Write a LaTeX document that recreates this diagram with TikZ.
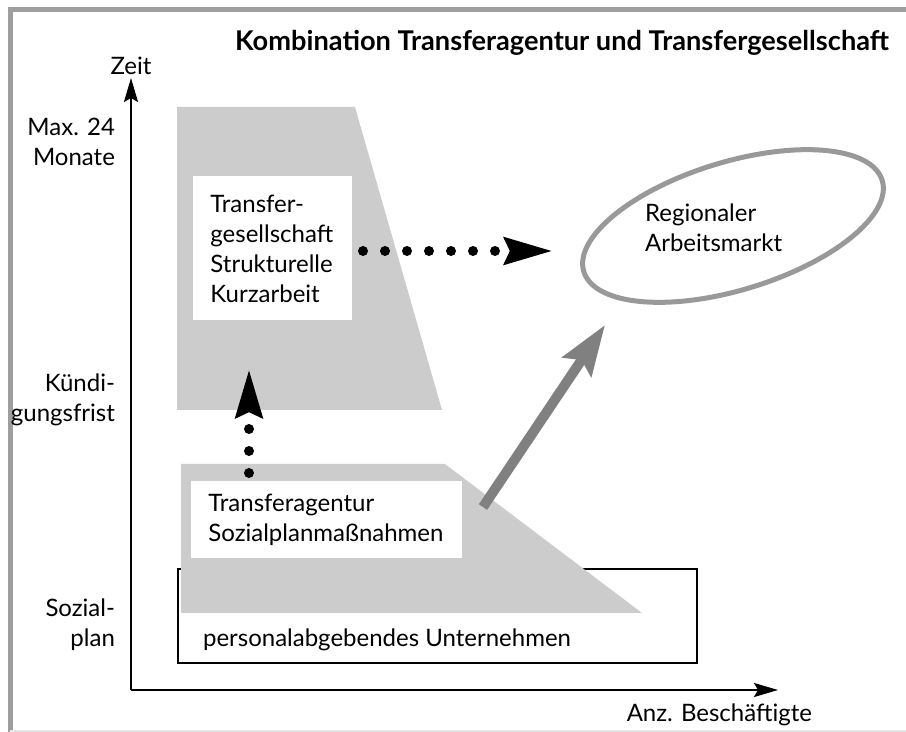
\documentclass[tikz,border=0pt]{standalone}
\usepackage{fontspec}
\setmainfont{Lato}
\usetikzlibrary{arrows.meta}
\usetikzlibrary{shapes.geometric}
\usetikzlibrary{positioning}
\definecolor{framegray}{gray}{0.62}
\definecolor{shadegray}{gray}{0.8}
\definecolor{ellgray}{gray}{0.6}
\definecolor{arrowgray}{gray}{0.5}

\begin{document}
\begin{tikzpicture}[x=0.5pt, y=-0.5pt, font=\fontsize{12}{15}\selectfont,
    axis/.style={line width=1pt, -{Stealth[length=12pt, width=7pt, inset=2pt]}},
    shaded/.style={fill=shadegray},
    whitebox/.style={fill=white, align=left, anchor=north west, inner xsep=8.5pt},
    dotarrow/.style={line width=5pt, line cap=round, dash pattern=on 0pt off 11pt,
      -{Stealth[length=24pt, width=13pt, inset=2.5pt]}},
    bigarrow/.style={arrowgray, line width=5pt, -{Stealth[length=25pt, width=17pt, inset=4pt]}}]
      \useasboundingbox (0,0) rectangle (906,732);

      % frame
      \draw[framegray, line width=2.5pt] (10,732) -- (10,9.5) -- (906,9.5);
      \draw[gray!20, line width=1pt] (10,731) -- (906,731);
      \node[anchor=east, font=\fontsize{13.6}{16}\selectfont\bfseries] (title) at (896,43) {Kombination Transferagentur und Transfergesellschaft};

      % axes
      \coordinate (origin) at (131,690); \coordinate (ytip) at (131,78); \coordinate (xtip) at (778,690);
      \draw[axis] (origin) -- (ytip);
      \draw[axis] (origin) -- (xtip);
      \node (zeit) at (131,66) {Zeit};
      \node[anchor=east] (anz) at (819,715) {Anz. Beschäftigte};
      \node[anchor=east, align=right] (maxlbl) at (122,142) {Max. 24\\Monate};
      \node[anchor=east, align=right] (kuendlbl) at (122,400) {Kündi-\\gungsfrist};
      \node[anchor=east, align=right] (soziallbl) at (122,625) {Sozial-\\plan};

      % shaded areas and boxes
      \fill[shaded] (177,107) -- (355,107) -- (442,410) -- (177,410) -- cycle;
      \node[draw, line width=1pt, anchor=north west, inner sep=0pt, minimum width=259.5pt, minimum height=47pt] (firm) at (177,568) {};
      \fill[shaded] (181,464) -- (445,464) -- (642,613) -- (181,613) -- cycle;
      \node[anchor=base west] (firmtext) at (196,647) {personalabgebendes Unternehmen};
      \node[whitebox, text width=62.5pt, minimum height=72pt] (gesbox) at (193,176) {Transfer-\\gesellschaft\\Strukturelle\\Kurzarbeit};
      \node[whitebox, text width=118.5pt, minimum height=38.5pt] (agbox) at (191,481) {Transferagentur\\Sozialplanmaßnahmen};

      % regional market
      \node[draw=ellgray, line width=2.5pt, ellipse, rotate=17, minimum width=156pt, minimum height=64pt] (markt) at (733,226) {};
      \node[anchor=west, align=left] (markttext) at (638,228) {Regionaler\\Arbeitsmarkt};

      % arrows
      \coordinate (gesout) at (363,251); \coordinate (marktin) at (553,251);
      \coordinate (agup) at (249,473); \coordinate (gesin) at (249,369);
      \coordinate (agout) at (483,507); \coordinate (marktlow) at (605,325);
      \draw[dotarrow] (gesout) -- (marktin);
      \draw[dotarrow] (agup) -- (gesin);
      \draw[bigarrow] (agout) -- (marktlow);
\end{tikzpicture}
\end{document}
